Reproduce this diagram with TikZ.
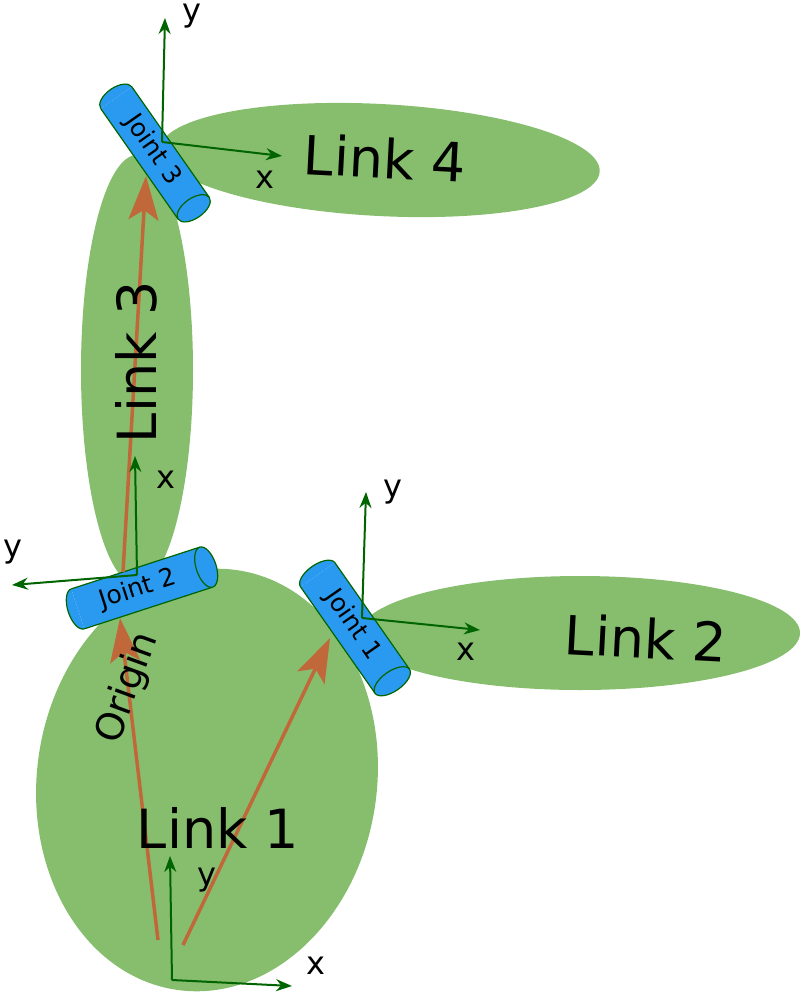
\documentclass[tikz,border=0pt]{standalone}
\usepackage{fontspec}
\setmainfont{DejaVu Sans}
\usetikzlibrary{arrows.meta}
\definecolor{linkgreen}{HTML}{86BE6E}
\definecolor{jointblue}{HTML}{2A9AF0}
\definecolor{framegreen}{HTML}{006400}
\definecolor{vecorange}{HTML}{C0683A}
\begin{document}
\begin{tikzpicture}[x=1pt, y=-1pt,
        link/.style={fill=linkgreen, draw=none},
        frame/.style={-{Stealth[length=16pt, width=12pt]}, framegreen, line width=2pt},
        vec/.style={-{Stealth[length=44pt, width=30pt, inset=10pt]}, vecorange, line width=3.5pt},
        axlabel/.style={font=\fontsize{32}{32}\selectfont},
        linklabel/.style={font=\fontsize{54}{54}\selectfont}
        ]
        \useasboundingbox (0,0) rectangle (800,994);
        % --- Links ---
        \fill[link, rotate around={-8:(207,780)}] (207,780) ellipse (170 and 212);
        \fill[link] (580,633) ellipse (220 and 57);
        \fill[link] (137,370) ellipse (56 and 215);
        \fill[link, rotate around={-3:(380,160)}] (380,160) ellipse (220 and 56);
        
        % --- Joints (cylinders) ---
        \newcommand{\drawjoint}[5]{% center, angle, length, radius, label
          \begin{scope}[shift={#1}, rotate=#2]
            \fill[jointblue] (-#3/2,-#4) rectangle (#3/2,#4);
            \fill[jointblue, draw=framegreen, line width=1.2pt] (-#3/2,-#4) arc (-90:-270:10 and #4);
            \draw[framegreen, line width=1.2pt] (-#3/2,-#4) -- (#3/2,-#4) (-#3/2,#4) -- (#3/2,#4);
            \draw[fill=jointblue, draw=framegreen, line width=1.2pt] (#3/2,0) ellipse (10 and #4);
            \node[font=\fontsize{25}{25}\selectfont, rotate=#2, inner sep=0pt] at (-4,0) {#5};
          \end{scope}}
        \drawjoint{(355,628)}{-55}{130}{21}{Joint 1}
        \drawjoint{(142,588)}{18}{135}{21}{Joint 2}
        \drawjoint{(155,153)}{-55}{135}{19}{Joint 3}
        
        % --- Position vectors ---
        \coordinate (o1) at (158,940);
        \coordinate (o2) at (183,945);
        \coordinate (o3) at (123,572);
        \coordinate (j1) at (330,638);
        \coordinate (j2) at (120,618);
        \coordinate (j3) at (146,176);
        \draw[vec] (o1) -- (j2);
        \draw[vec] (o2) -- (j1);
        \draw[vec] (o3) -- (j3);
        
        % --- Frames ---
        \coordinate (f0) at (172,980);
        \coordinate (f0y) at (170,856);
        \coordinate (f0x) at (292,986);
        \draw[frame] (f0) -- (f0y);
        \draw[frame] (f0) -- (f0x);
        \node[axlabel] (f0ylab) at (207,880) {y};
        \node[axlabel] (f0xlab) at (316,966) {x};
        
        \coordinate (f1) at (362,618);
        \coordinate (f1y) at (366,492);
        \coordinate (f1x) at (480,630);
        \draw[frame] (f1) -- (f1y);
        \draw[frame] (f1) -- (f1x);
        \node[axlabel] (f1ylab) at (393,492) {y};
        \node[axlabel] (f1xlab) at (466,652) {x};
        
        \coordinate (f2) at (137,575);
        \coordinate (f2x) at (135,456);
        \coordinate (f2y) at (12,585);
        \draw[frame] (f2) -- (f2x);
        \draw[frame] (f2) -- (f2y);
        \node[axlabel] (f2xlab) at (166,480) {x};
        \node[axlabel] (f2ylab) at (13,552) {y};
        
        \coordinate (f3) at (162,142);
        \coordinate (f3y) at (165,18);
        \coordinate (f3x) at (282,156);
        \draw[frame] (f3) -- (f3y);
        \draw[frame] (f3) -- (f3x);
        \node[axlabel] (f3ylab) at (192,16) {y};
        \node[axlabel] (f3xlab) at (265,180) {x};
        
        % --- Labels ---
        \node[linklabel] (l1) at (218,828) {Link 1};
        \node[linklabel, rotate=-3] (l2) at (646,638) {Link 2};
        \node[linklabel, rotate=90] (l3) at (136,362) {Link 3};
        \node[linklabel, rotate=-3] (l4) at (385,158) {Link 4};
        \node[font=\fontsize{38}{38}\selectfont, rotate=70] (orig) at (128,688) {Origin};
\end{tikzpicture}
\end{document}
